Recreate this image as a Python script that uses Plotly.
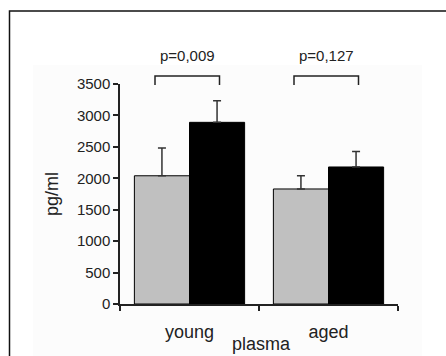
import plotly.graph_objects as go

categories = ["young", "aged"]
gray_values = [2040, 1830]
gray_err = [440, 210]
black_values = [2890, 2180]
black_err = [345, 245]
p_labels = ["p=0,009", "p=0,127"]
y_ticks = [0, 500, 1000, 1500, 2000, 2500, 3000, 3500]

W, H = 446, 356
L, R, T, B = 120, 48, 84, 52
pw, ph = W - L - R, H - T - B

def px_x(x):
    return (x - L) / pw

def px_y(y):
    return (H - B - y) / ph

fig = go.Figure()
fig.add_trace(go.Bar(
    x=categories, y=gray_values, marker=dict(color="#c0c0c0", line=dict(color="#000000", width=1)),
    error_y=dict(type="data", array=gray_err, arrayminus=[0, 0], symmetric=False,
                 color="#333333", thickness=1.5, width=4),
    showlegend=False,
))
fig.add_trace(go.Bar(
    x=categories, y=black_values, marker=dict(color="#000000", line=dict(color="#000000", width=1)),
    error_y=dict(type="data", array=black_err, arrayminus=[0, 0], symmetric=False,
                 color="#333333", thickness=1.5, width=4),
    showlegend=False,
))

shapes = [
    # faint off-white panel
    dict(type="rect", xref="paper", yref="paper", x0=px_x(33), x1=px_x(422), y0=px_y(360), y1=px_y(65),
         fillcolor="#fcfcfc", line=dict(width=0), layer="below"),
    # outer frame
    dict(type="rect", xref="paper", yref="paper", x0=px_x(9.5), x1=px_x(470), y0=px_y(380), y1=px_y(11),
         fillcolor="rgba(0,0,0,0)", line=dict(color="#111111", width=1.5), layer="above"),
]
annotations = []
bracket_top, bracket_bot = px_y(76), px_y(85)
for i, lab in enumerate(p_labels):
    cx = L + pw * (i + 0.5) / 2
    x0, x1 = px_x(cx - 34.5), px_x(cx + 30)
    shapes.append(dict(type="path", xref="paper", yref="paper",
                       path=f"M {x0} {bracket_bot} L {x0} {bracket_top} L {x1} {bracket_top} L {x1} {bracket_bot}",
                       line=dict(color="#222222", width=1.5)))
    annotations.append(dict(text=lab, xref="paper", yref="paper", x=px_x(cx - 2), y=px_y(55),
                            showarrow=False, xanchor="center", yanchor="middle",
                            font=dict(size=15, color="#222222")))
annotations.append(dict(text="plasma", xref="paper", yref="paper", x=px_x(261), y=px_y(356),
                        showarrow=False, xanchor="center", yanchor="bottom",
                        font=dict(size=18, color="#222222")))

fig.update_layout(
    width=W, height=H,
    margin=dict(l=L, r=R, t=T, b=B),
    paper_bgcolor="#ffffff", plot_bgcolor="rgba(0,0,0,0)",
    barmode="group", bargap=0.207, bargroupgap=0,
    font=dict(family="Liberation Sans, Arial, sans-serif", color="#222222"),
    shapes=shapes, annotations=annotations,
    xaxis=dict(type="category", showline=True, linecolor="#222222", linewidth=1.5,
               ticks="outside", ticklen=5, tickcolor="#222222", tickwidth=1.5, tickson="boundaries",
               tickfont=dict(size=18, color="#222222"), showgrid=False, zeroline=False,
               ticklabelstandoff=11, automargin=False),
    yaxis=dict(range=[0, 3500], tickvals=y_ticks, showline=True, linecolor="#222222", linewidth=1.5,
               ticks="outside", ticklen=5, tickcolor="#222222", tickwidth=1.5,
               tickfont=dict(size=15, color="#222222"), showgrid=False, zeroline=False,
               automargin=False,
               title=dict(text="pg/ml", font=dict(size=18, color="#222222"), standoff=14)),
)

fig.write_html("out.html")
